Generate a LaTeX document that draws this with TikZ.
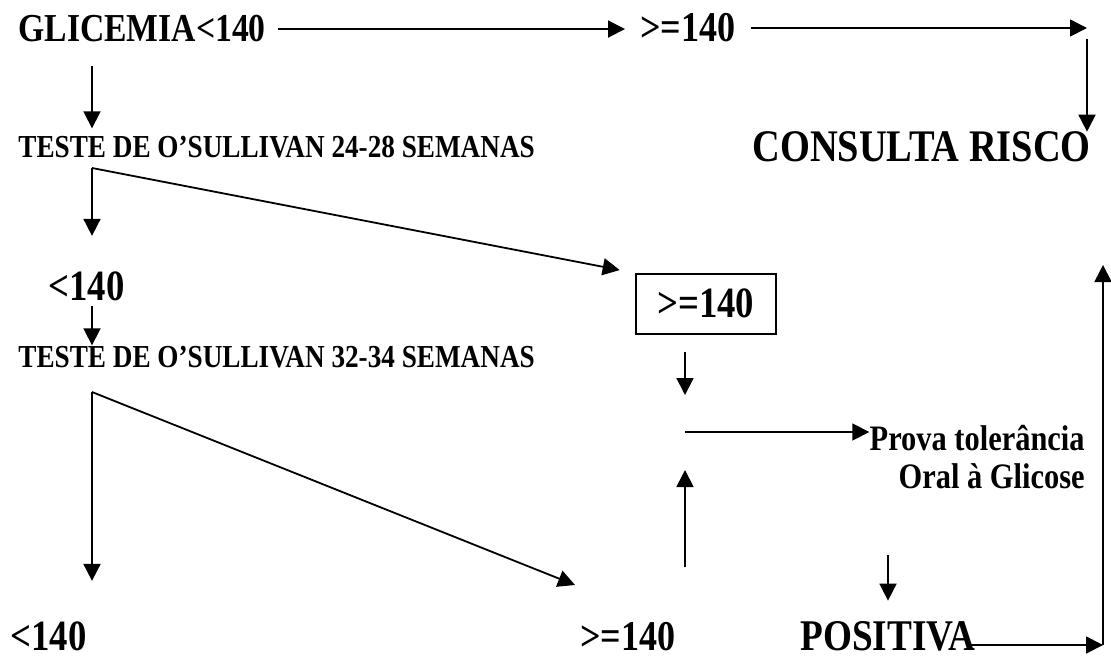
\documentclass[tikz,border=0pt]{standalone}
\usepackage{fontspec}
\setmainfont{Liberation Serif}[FakeStretch=0.85]
\usetikzlibrary{arrows.meta}
\tikzset{
  lbl/.style={inner sep=0pt, anchor=base west, font=\fontsize{#1}{#1}\selectfont\bfseries},
  arr/.style={-{Triangle[length=8.5pt,width=8.5pt]}, line width=0.9pt},
}
\begin{document}
\begin{tikzpicture}[x=0.5pt,y=-0.5pt]
  \useasboundingbox (0,0) rectangle (1111,663);
  % texts
  \node[lbl=19.8] (gli) at (18,42) {GLICEMIA<140};
  \node[lbl=21.2] (hi1) at (640,42) {>=140};
  \node[lbl=16] (test1) at (18,158) {TESTE DE O’SULLIVAN 24-28 SEMANAS};
  \node[lbl=22.6] (risco) at (752,162) {CONSULTA RISCO};
  \node[lbl=21.6] (low1) at (48,300) {<140};
  \node[lbl=16] (test2) at (18,367) {TESTE DE O’SULLIVAN 32-34 SEMANAS};
  \node[draw, line width=0.8pt, anchor=north west, minimum width=70pt, minimum height=30pt,
        font=\fontsize{21.6}{21.6}\selectfont\bfseries] (box) at (635,273) {>=140};
  \node[inner sep=0pt, anchor=north east, align=right,
        font=\fontsize{17.9}{19}\selectfont\bfseries] (prova) at (1085,425)
        {Prova tolerância\\Oral à Glicose};
  \node[lbl=21.6] (low2) at (10,650) {<140};
  \node[lbl=21.2] (hi2) at (580,650) {>=140};
  \node[lbl=21.9] (pos) at (800,650) {POSITIVA};
  % free ends
  \coordinate (k) at (1087,28);
  \coordinate (b1) at (92,168);
  \coordinate (b2) at (92,392);
  \coordinate (d2) at (575,585);
  \coordinate (m) at (685,432);
  \coordinate (r) at (1103,645);
  % connectors
  \draw[arr, shorten <=6pt, shorten >=7.5pt] (gli.east) -- (gli.east -| hi1.west);
  \draw[arr, shorten <=7.5pt] (hi1.east |- k) -- (k);
  \draw[arr, shorten <=5.5pt] (k) -- (k |- risco.north);
  \draw[arr, shorten <=11.5pt, shorten >=4pt] (b1 |- gli.south) -- (b1 |- test1.north);
  \draw[arr, shorten >=17.5pt] (b1) -- (b1 |- low1.north);
  \draw[arr, shorten >=7.8pt] (b1) -- (box.north west);
  \draw[arr, shorten <=2.5pt] (b1 |- low1.south) -- (b1 |- test2.north);
  \draw[arr, shorten >=20pt] (b2) -- (b2 |- low2.north);
  \draw[arr] (b2) -- (d2);
  \draw[arr, shorten <=8.5pt, shorten >=18.5pt] (box.south -| m) -- (m);
  \draw[arr] (m) -- (m -| prova.west);
  \draw[arr, shorten <=27pt, shorten >=19pt] (m |- hi2.north) -- (m);
  \draw[arr, shorten <=33pt, shorten >=10pt] (pos.north |- prova.south) -- (pos.north);
  \draw[arr, shorten <=-5pt] (pos.east |- r) -- (r);
  \draw[arr, shorten >=-4pt] (r) -- (r |- box.north);
\end{tikzpicture}
\end{document}
